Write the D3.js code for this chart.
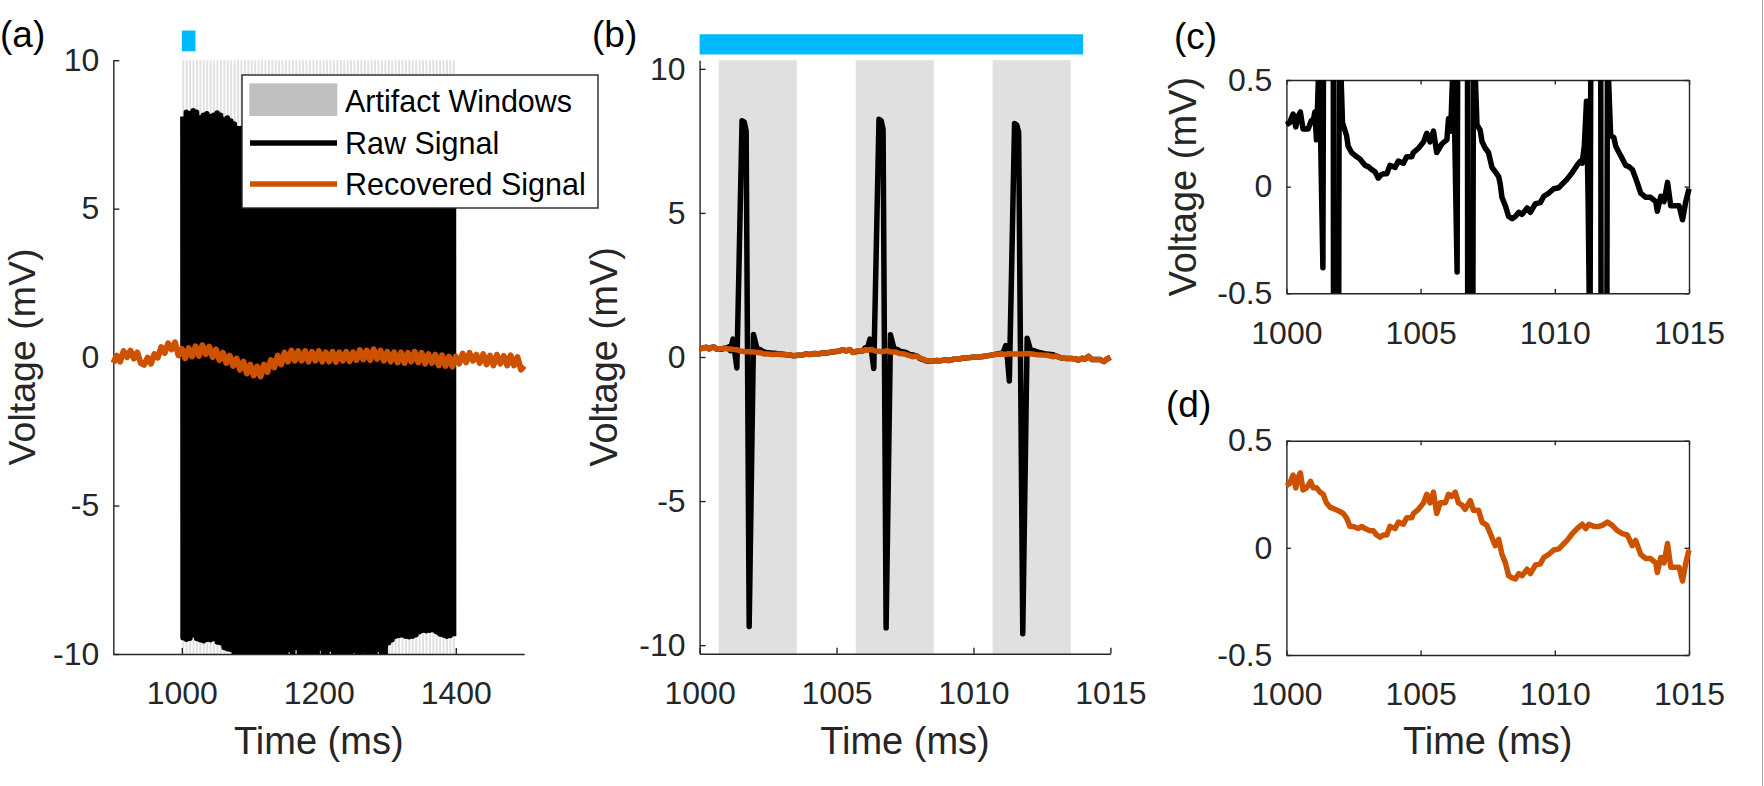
<!DOCTYPE html>
<html><head><meta charset="utf-8">
<script src="https://cdn.jsdelivr.net/npm/d3@7"></script>
<style>
body{margin:0;background:#fff;}
svg{display:block;}
text{font-family:"Liberation Sans", Arial, Helvetica, sans-serif;}
</style>
</head><body>
<svg id="chart" width="1764" height="786"></svg>
<script>
// ---------------- DATA ----------------
const ticksAX = [1000, 1200, 1400];
const ticksV = [-10, -5, 0, 5, 10];
const ticksZoomX = [1000, 1005, 1010, 1015];
const ticksZoomV = [-0.5, 0, 0.5];

// artifact window onsets (ms) and window length (ms)
const windowStarts = [
 1000.7,1005.7,1010.7,1015.7,1020.7,1025.7,1030.7,1035.7,1040.7,1045.7,
 1050.7,1055.7,1060.7,1065.7,1070.7,1075.7,1080.7,1085.7,1090.7,1095.7,
 1100.7,1105.7,1110.7,1115.7,1120.7,1125.7,1130.7,1135.7,1140.7,1145.7,
 1150.7,1155.7,1160.7,1165.7,1170.7,1175.7,1180.7,1185.7,1190.7,1195.7,
 1200.7,1205.7,1210.7,1215.7,1220.7,1225.7,1230.7,1235.7,1240.7,1245.7,
 1250.7,1255.7,1260.7,1265.7,1270.7,1275.7,1280.7,1285.7,1290.7,1295.7,
 1300.7,1305.7,1310.7,1315.7,1320.7,1325.7,1330.7,1335.7,1340.7,1345.7,
 1350.7,1355.7,1360.7,1365.7,1370.7,1375.7,1380.7,1385.7,1390.7,1395.7];
const windowLength = 2.85;

// panel (a): raw artifact peak / trough per pulse (mV), offsets inside window (ms)
const pulsePeakOffset = 0.88, pulseTroughOffset = 1.11;
const rawTopA = [
 8.1, 8.25, 8.2, 8.3, 8.25, 8.05, 8.15, 8.2, 8.1, 8.15, 8.22, 8.15, 8.0, 8.05, 7.95, 7.85, 7.7,
 7.7, 7.65, 7.75, 7.8, 7.7, 7.75, 7.8, 7.85, 7.8,
 7.75, 7.8, 7.85, 7.9, 7.85, 7.8, 7.85, 7.9, 7.85,
 7.8, 7.85, 7.9, 7.95, 7.9, 7.85, 7.9, 7.95, 7.9,
 7.85, 7.9, 7.95, 8.0, 7.95, 7.9, 7.95, 8.0, 7.95,
 7.9, 7.95, 8.0, 8.05, 8.0, 7.95, 8.0, 8.05, 8.0,
 7.95, 8.0, 8.05, 8.1, 8.05, 8.0, 8.05, 8.1, 8.05,
 8.0, 8.05, 8.1, 8.05, 8.0, 8.05, 8.1, 8.05, 8.0];
const rawBottomA = [
 -9.45, -9.5, -9.47, -9.35, -9.48, -9.52, -9.55, -9.5, -9.52, -9.48, -9.6, -9.62, -9.78, -9.82, -9.85,
 -10.2, -10.2, -10.2, -10.2, -10.2, -10.2, -10.2, -10.2, -10.2, -10.2, -10.2, -10.2, -10.2, -10.2, -10.2, -10.2,
 -9.85, -10.2, -9.78, -10.2, -10.2, -10.2, -10.2, -10.2, -10.2,
 -9.8, -10.2, -10.2, -9.83, -10.2, -10.2, -10.2, -10.2, -10.2, -10.2,
 -9.88, -10.2, -10.2, -9.9, -10.2, -10.2, -10.2, -9.85, -10.05, -10.05,
 -9.62, -9.52, -9.4, -9.38, -9.36, -9.4, -9.42, -9.4, -9.35, -9.25,
 -9.2, -9.22, -9.2, -9.18, -9.25, -9.33, -9.36, -9.4, -9.38, -9.4];

// panel (a): recovered signal sampled every 5 ms from 900 ms
const recAStart = 900, recAStep = 5;
const recAVolt = [
 -0.2, 0.05, -0.15, 0.2, 0.0, 0.22, -0.05, 0.16, -0.2, -0.26,
 -0.02, -0.22, 0.1, -0.02, 0.34, 0.14, 0.46, 0.26, 0.5, 0.06,
 0.28, -0.04, 0.3, 0.02, 0.36, 0.04, 0.4, 0.1, 0.35, 0.0,
 0.26, -0.1, 0.15, -0.2, 0.05, -0.3, -0.05, -0.42, -0.15, -0.55,
 -0.25, -0.62, -0.32, -0.65, -0.25, -0.5, -0.1, -0.35, 0.05, -0.25,
 0.15, -0.15, 0.22, -0.12, 0.2, -0.12, 0.2, -0.15, 0.18, -0.12,
 0.2, -0.15, 0.16, -0.15, 0.18, -0.16, 0.16, -0.12, 0.18, -0.14,
 0.16, -0.1, 0.24, -0.08, 0.22, -0.1, 0.26, -0.06, 0.22, -0.12,
 0.18, -0.15, 0.16, -0.18, 0.16, -0.2, 0.14, -0.15, 0.18, -0.18,
 0.14, -0.22, 0.1, -0.2, 0.08, -0.28, 0.06, -0.3, 0.02, -0.32,
 0.02, -0.22, 0.12, -0.18, 0.14, -0.12, 0.08, -0.2, 0.1, -0.25,
 0.05, -0.28, 0.08, -0.22, 0.04, -0.28, 0.06, -0.28, 0.0, -0.42, -0.3];

// panels (b)/(d): recovered signal 1000-1015 ms
const recTimeB = [
 1000.0,1000.12,1000.25,1000.35,1000.44,1000.52,1000.62,1000.75,1000.9,1001.0,
 1001.12,1001.25,1001.37,1001.49,1001.62,1001.81,1001.99,1002.12,1002.24,1002.37,
 1002.49,1002.68,1002.8,1002.93,1003.11,1003.24,1003.36,1003.49,1003.61,1003.74,
 1003.86,1004.05,1004.17,1004.36,1004.48,1004.67,1004.73,1004.92,1005.11,1005.23,
 1005.35,1005.48,1005.6,1005.73,1005.92,1006.04,1006.16,1006.29,1006.41,1006.54,
 1006.66,1006.85,1006.97,1007.16,1007.29,1007.47,1007.6,1007.78,1007.91,1008.03,
 1008.16,1008.28,1008.41,1008.53,1008.66,1008.78,1008.97,1009.09,1009.28,1009.46,
 1009.59,1009.78,1009.96,1010.15,1010.34,1010.46,1010.65,1010.83,1011.02,1011.15,
 1011.27,1011.46,1011.64,1011.77,1011.96,1012.14,1012.33,1012.52,1012.7,1012.89,
 1013.01,1013.2,1013.39,1013.57,1013.76,1013.82,1013.95,1014.07,1014.2,1014.32,
 1014.45,1014.63,1014.76,1014.88,1015.0];
const recVoltB = [
 0.29,0.30,0.34,0.28,0.33,0.35,0.27,0.28,0.31,0.28,
 0.28,0.26,0.25,0.21,0.19,0.18,0.17,0.16,0.14,0.10,
 0.10,0.09,0.10,0.09,0.08,0.08,0.06,0.05,0.06,0.06,
 0.10,0.09,0.12,0.11,0.14,0.14,0.16,0.18,0.21,0.25,
 0.21,0.26,0.16,0.21,0.21,0.25,0.24,0.26,0.21,0.20,
 0.18,0.22,0.175,0.175,0.12,0.105,0.066,0.01,0.04,-0.03,
 -0.07,-0.13,-0.14,-0.145,-0.12,-0.13,-0.10,-0.12,-0.08,-0.075,
 -0.045,-0.03,-0.01,-0.005,0.02,0.035,0.066,0.09,0.11,0.09,
 0.11,0.10,0.10,0.105,0.12,0.105,0.08,0.066,0.06,0.01,
 0.035,-0.03,-0.05,-0.05,-0.07,-0.115,-0.045,-0.07,0.02,-0.09,
 -0.09,-0.09,-0.155,-0.07,-0.01];

// panels (b)/(c): raw signal inside the artifact windows
const rawSegTime = [
 1000.81,1000.93,1001.0,1001.06,1001.12,1001.22,1001.36,1001.55,1001.63,1001.7,1001.81,1001.97,1002.09,
 1002.24,1002.3,1002.43,1002.62,1002.74,1002.8,1002.93,1003.05,1003.18,1003.3,1003.42,1003.52,
 1005.79,1005.98,1006.04,1006.12,1006.22,1006.36,1006.55,1006.63,1006.7,1006.81,1006.97,1007.1,
 1007.22,1007.29,1007.41,1007.53,1007.66,1007.78,1007.91,1007.97,1008.03,1008.16,1008.28,1008.41,1008.53,
 1010.83,1010.96,1011.02,1011.1,1011.18,1011.24,1011.31,1011.5,1011.58,1011.65,1011.8,1011.96,1012.08,
 1012.2,1012.27,1012.39,1012.52,1012.64,1012.76,1012.89,1013.01,1013.08,1013.2,1013.39,1013.51];
const rawSegVolt = [
 0.27,0.31,0.31,0.35,0.22,0.62,-0.38,8.2,8.15,7.85,-9.35,0.78,0.3,
 0.24,0.19,0.16,0.14,0.13,0.12,0.10,0.094,0.08,0.07,0.04,0.055,
 0.2,0.22,0.32,0.26,0.62,-0.4,8.25,8.2,7.9,-9.4,0.77,0.29,
 0.265,0.21,0.18,0.16,0.09,0.07,0.047,0.01,-0.05,-0.09,-0.14,-0.15,-0.14,
 0.1,0.12,0.11,0.19,0.4,-0.05,-0.83,8.1,8.05,7.8,-9.6,0.65,0.24,
 0.23,0.19,0.16,0.13,0.1,0.094,0.08,0.04,0.015,-0.03,-0.05,-0.05];

// stimulation/zoom indicator bars [t0, t1, v0, v1]
const barA = [1000, 1020, 10.3, 11.0];
const barB = [1000, 1014, 10.5, 11.2];

const legendLabels = ["Artifact Windows", "Raw Signal", "Recovered Signal"];

// ---------------- STYLE ----------------
const AXC = '#262626', ORANGE = '#cc5200', BLUE = '#00b9ff', WIN = '#e0e0e0';
const LW = 5.5;
const svg = d3.select('#chart');

function makePanel(id, l, r, t, b, xd, yd) {
  const x = d3.scaleLinear().domain(xd).range([l, r]);
  const y = d3.scaleLinear().domain(yd).range([b, t]);
  svg.append('clipPath').attr('id', 'clip-' + id).append('rect')
    .attr('x', l - 3).attr('y', t).attr('width', r - l + 6).attr('height', b - t);
  const back = svg.append('g');
  const axes = svg.append('g');
  const plot = svg.append('g').attr('clip-path', `url(#clip-${id})`);
  return {x, y, l, r, t, b, back, axes, plot};
}

function styleAxis(sel) {
  sel.select('.domain').attr('stroke', AXC).attr('stroke-width', 1.4);
  sel.selectAll('.tick line').attr('stroke', AXC).attr('stroke-width', 1.4);
  sel.selectAll('.tick text').attr('fill', AXC).attr('font-size', 32)
     .attr('font-family', '"Liberation Sans", Arial, sans-serif');
}

function drawAxes(p, xt, yt, box, tl) {
  const fmt = d => String(d);
  p.axes.append('g').attr('transform', `translate(0,${p.b})`)
    .call(d3.axisBottom(p.x).tickValues(xt).tickFormat(fmt).tickSizeInner(-tl).tickSizeOuter(0).tickPadding(27.5))
    .call(styleAxis);
  p.axes.append('g').attr('transform', `translate(${p.l},0)`)
    .call(d3.axisLeft(p.y).tickValues(yt).tickFormat(fmt).tickSizeInner(-tl).tickSizeOuter(0).tickPadding(14))
    .call(styleAxis);
  if (box) {
    p.axes.append('g').attr('transform', `translate(0,${p.t})`)
      .call(d3.axisTop(p.x).tickValues(xt).tickFormat('').tickSizeInner(-tl).tickSizeOuter(0))
      .call(styleAxis);
    p.axes.append('g').attr('transform', `translate(${p.r},0)`)
      .call(d3.axisRight(p.y).tickValues(yt).tickFormat('').tickSizeInner(-tl).tickSizeOuter(0))
      .call(styleAxis);
  }
}

function label(txt, x, y, size, rot, anchor, color) {
  const t = svg.append('text').text(txt).attr('font-size', size)
    .attr('fill', color || AXC).attr('text-anchor', anchor || 'middle');
  if (rot) t.attr('transform', `translate(${x},${y}) rotate(-90)`);
  else t.attr('x', x).attr('y', y);
  return t;
}

function lineGen(p) {
  return d3.line().x(d => p.x(d[0])).y(d => p.y(d[1]));
}

// ---------- derived tables ----------
const recA = recAVolt.map((v, i) => [recAStart + i * recAStep, v]);
const recB = recTimeB.map((t, i) => [t, recVoltB[i]]);
const windowsB = windowStarts.filter(s => s < 1015).map(s => [s, s + windowLength]);
const inWin = t => windowsB.some(w => t > w[0] && t < w[1]);
const rawB = recB.filter(d => !inWin(d[0]))
  .concat(rawSegTime.map((t, i) => [t, rawSegVolt[i]]))
  .sort((a, b) => a[0] - b[0]);
const rawA = [];
windowStarts.forEach((s, k) => {
  rawA.push([s + pulsePeakOffset, rawTopA[k]]);
  rawA.push([s + pulseTroughOffset, rawBottomA[k]]);
});

// ---------------- PANEL A ----------------
const pa = makePanel('a', 113.3, 524.3, 60.2, 654, [900, 1500], [-10, 10]);
pa.back.selectAll('rect').data(windowStarts).join('rect')
  .attr('x', s => pa.x(s)).attr('width', pa.x(1000 + windowLength) - pa.x(1000))
  .attr('y', pa.y(10)).attr('height', pa.y(-10) - pa.y(10)).attr('fill', WIN);
drawAxes(pa, ticksAX, ticksV, false, 6);
pa.plot.append('path').datum(rawA).attr('d', lineGen(pa)).attr('fill', 'none')
  .attr('stroke', '#000').attr('stroke-width', LW).attr('stroke-linejoin', 'round');
pa.plot.append('path').datum(recA).attr('d', lineGen(pa)).attr('fill', 'none')
  .attr('stroke', ORANGE).attr('stroke-width', LW + 0.5).attr('stroke-linejoin', 'round');
svg.append('rect').attr('x', pa.x(barA[0])).attr('width', pa.x(barA[1]) - pa.x(barA[0]))
  .attr('y', pa.y(barA[3])).attr('height', pa.y(barA[2]) - pa.y(barA[3])).attr('fill', BLUE);

// legend
const lg = svg.append('g');
lg.append('rect').attr('x', 242).attr('y', 75).attr('width', 356).attr('height', 133)
  .attr('fill', '#fff').attr('stroke', AXC).attr('stroke-width', 1.4);
lg.append('rect').attr('x', 249.3).attr('y', 83.3).attr('width', 88).attr('height', 32.7).attr('fill', '#c0c0c0');
lg.append('line').attr('x1', 250).attr('x2', 337).attr('y1', 143).attr('y2', 143)
  .attr('stroke', '#000').attr('stroke-width', LW);
lg.append('line').attr('x1', 250).attr('x2', 337).attr('y1', 184).attr('y2', 184)
  .attr('stroke', ORANGE).attr('stroke-width', LW);
legendLabels.forEach((s, i) => {
  lg.append('text').text(s).attr('x', 345).attr('y', [111.5, 153.5, 195][i])
    .attr('font-size', 30.5).attr('fill', '#000');
});

// ---------------- PANEL B ----------------
const pb = makePanel('b', 699.6, 1110.4, 60.2, 653.8, [1000, 1015], [-10.3, 10.3]);
pb.back.selectAll('rect').data(windowsB).join('rect')
  .attr('x', w => pb.x(w[0])).attr('width', w => pb.x(w[1]) - pb.x(w[0]))
  .attr('y', pb.t).attr('height', pb.b - pb.t).attr('fill', WIN);
drawAxes(pb, ticksZoomX, ticksV, false, 6);
pb.plot.append('path').datum(rawB).attr('d', lineGen(pb)).attr('fill', 'none')
  .attr('stroke', '#000').attr('stroke-width', LW).attr('stroke-linejoin', 'round');
pb.plot.append('path').datum(recB).attr('d', lineGen(pb)).attr('fill', 'none')
  .attr('stroke', ORANGE).attr('stroke-width', LW).attr('stroke-linejoin', 'round');
svg.append('rect').attr('x', pb.x(barB[0])).attr('width', pb.x(barB[1]) - pb.x(barB[0]))
  .attr('y', pb.y(barB[3])).attr('height', pb.y(barB[2]) - pb.y(barB[3])).attr('fill', BLUE);

// ---------------- PANEL C ----------------
const pc = makePanel('c', 1286.4, 1689, 80, 293.3, [1000, 1015], [-0.5, 0.5]);
drawAxes(pc, ticksZoomX, ticksZoomV, true, 4.5);
pc.plot.append('path').datum(rawB).attr('d', lineGen(pc)).attr('fill', 'none')
  .attr('stroke', '#000').attr('stroke-width', LW).attr('stroke-linejoin', 'round');

// ---------------- PANEL D ----------------
const pd = makePanel('d', 1286.4, 1689, 440.7, 655, [1000, 1015], [-0.5, 0.5]);
drawAxes(pd, ticksZoomX, ticksZoomV, true, 4.5);
pd.plot.append('path').datum(recB).attr('d', lineGen(pd)).attr('fill', 'none')
  .attr('stroke', ORANGE).attr('stroke-width', LW).attr('stroke-linejoin', 'round');

// ---------------- LABELS ----------------
label('Voltage (mV)', 35, 357, 37.5, true);
label('Voltage (mV)', 617, 357, 38, true);
label('Voltage (mV)', 1195.5, 186.7, 38, true);
label('Time (ms)', (pa.l + pa.r) / 2, 754, 38);
label('Time (ms)', (pb.l + pb.r) / 2, 754, 38);
label('Time (ms)', (pd.l + pd.r) / 2, 754, 38);
label('(a)', 0, 47, 37, false, 'start', '#000');
label('(b)', 592, 47, 37, false, 'start', '#000');
label('(c)', 1174, 49, 37, false, 'start', '#000');
label('(d)', 1166, 417, 37, false, 'start', '#000');

// right border line of the figure
svg.append('line').attr('x1', 1762.5).attr('x2', 1762.5).attr('y1', 0).attr('y2', 786)
  .attr('stroke', '#a0a0a0').attr('stroke-width', 1);
</script>
</body></html>
